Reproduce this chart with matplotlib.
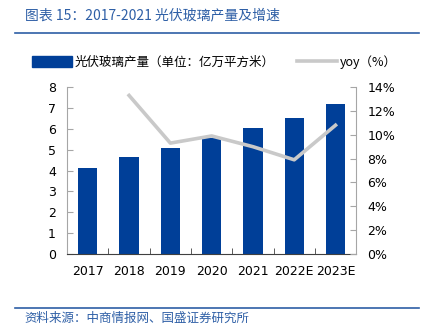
import matplotlib.pyplot as plt
from matplotlib.lines import Line2D
from matplotlib.patches import Patch
from matplotlib.ticker import FuncFormatter, FixedLocator

plt.rcParams['font.family'] = ['Noto Sans CJK SC', 'DejaVu Sans']

years = ["2017", "2018", "2019", "2020", "2021", "2022E", "2023E"]
output = [4.1, 4.63, 5.06, 5.56, 6.04, 6.52, 7.21]
yoy_years = ["2018", "2019", "2020", "2021", "2022E", "2023E"]
yoy = [13.3, 9.3, 9.9, 9.0, 7.9, 10.8]

bar_color = "#003F98"
line_color = "#C9C9C9"
blue = "#2E5FA6"

fig = plt.figure(figsize=(4.25, 3.35), dpi=100)
ax = fig.add_axes([0.158, 0.242, 0.68, 0.498])
ax2 = ax.twinx()

x = list(range(len(years)))
ax.bar(x, output, width=0.47, color=bar_color, zorder=2)
xi = [years.index(y) for y in yoy_years]
ax2.plot(xi, yoy, color=line_color, lw=2.6, zorder=3)

ax.set_xlim(-0.5, len(years) - 0.5)
ax.set_ylim(0, 8)
ax2.set_ylim(0, 14)
ax.set_yticks(range(0, 9))
ax2.set_yticks(range(0, 15, 2))
ax2.yaxis.set_major_formatter(FuncFormatter(lambda v, p: f"{v:.0f}%"))
ax.set_xticks(x)
ax.set_xticklabels(years)
ax.xaxis.set_minor_locator(FixedLocator([i + 0.5 for i in range(len(years) - 1)]))

ax.set_zorder(ax2.get_zorder() - 1)
ax.patch.set_visible(False)

for a in (ax, ax2):
    a.spines['top'].set_visible(False)
ax.spines['left'].set_color("#A6A6A6")
ax.spines['right'].set_visible(False)
ax2.spines['left'].set_visible(False)
ax2.spines['bottom'].set_visible(False)
ax2.spines['right'].set_color("#A6A6A6")
ax.spines['bottom'].set_color("#404040")

ax.tick_params(axis='y', direction='in', length=4, color="#A6A6A6", labelsize=9, pad=8)
ax2.tick_params(axis='y', direction='in', length=4, color="#A6A6A6", labelsize=9, pad=8)
ax.tick_params(axis='x', which='major', length=0, labelsize=9, pad=8)
ax.tick_params(axis='x', which='minor', direction='in', length=4, color="#404040")
for lbl in ax.get_xticklabels() + ax.get_yticklabels() + ax2.get_yticklabels():
    lbl.set_fontfamily(['DejaVu Sans'])

fig.text(0.058, 0.955, "图表 15：2017-2021 光伏玻璃产量及增速", color=blue,
         fontsize=10, fontstyle='italic', fontweight='medium', va='center')
fig.add_artist(Line2D([0.035, 0.985], [0.902, 0.902], color=blue, lw=1.2))
fig.add_artist(Line2D([0.035, 0.985], [0.082, 0.082], color=blue, lw=1.2))
fig.text(0.058, 0.05, "资料来源：中商情报网、国盛证券研究所", color=blue,
         fontsize=9, fontstyle='italic', va='center')

handles = [Patch(color=bar_color), Line2D([], [], color=line_color, lw=2.6)]
labels = ["光伏玻璃产量（单位：亿万平方米）", "yoy（%）"]
fig.legend(handles, labels, loc='center', bbox_to_anchor=(0.505, 0.815), ncol=2,
           frameon=False, fontsize=9, handlelength=3.2, handleheight=0.9,
           handletextpad=0.2, columnspacing=1.8)

fig.savefig("out.png", dpi=100)
